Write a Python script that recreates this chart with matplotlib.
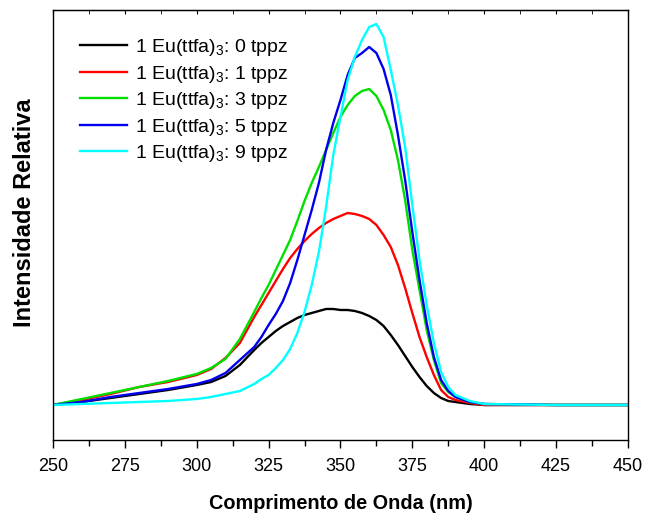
import numpy as np
import matplotlib
matplotlib.use("Agg")
import matplotlib.pyplot as plt

plt.rcParams['font.family'] = ['Liberation Sans', 'DejaVu Sans']
plt.rcParams['mathtext.fontset'] = 'custom'
plt.rcParams['mathtext.rm'] = 'Liberation Sans'
plt.rcParams['mathtext.it'] = 'Liberation Sans'

# wavelength (nm)
wl = [250, 260, 270, 280, 290, 300, 305, 310, 315, 320, 322.5, 325, 327.5,
      330, 332.5, 335, 337.5, 340, 342.5, 345, 347.5, 350, 352.5, 355, 357.5,
      360, 362.5, 365, 367.5, 370, 372.5, 375, 377.5, 380, 382.5, 385, 387.5,
      390, 395, 400, 425, 450]

# relative intensity (arbitrary units)
i0 = [0, 3, 7, 11, 15, 20, 23, 29, 40, 55, 62, 68, 74, 79, 83, 87, 90, 92,
      94, 96, 96, 95, 95, 94, 92, 89, 85, 79, 70, 60, 49, 38, 28, 19, 12, 7,
      4, 3, 1, 0, 0, 0]
i1 = [0, 5, 11, 18, 23, 30, 36, 47, 62, 88, 100, 112, 124, 136, 147, 156,
      164, 171, 177, 182, 186, 189, 192, 191, 189, 186, 180, 170, 158, 140,
      117, 92, 68, 48, 30, 15, 8, 5, 2, 0, 0, 0]
i3 = [0, 6, 12, 18, 24, 31, 37, 46, 66, 93, 107, 120, 135, 150, 165, 184,
      204, 222, 238, 255, 272, 288, 300, 309, 314, 316, 309, 295, 275, 245,
      205, 155, 115, 75, 45, 22, 13, 8, 3, 1, 0, 0]
i5 = [0, 3, 8, 12, 16, 21, 25, 32, 45, 58, 68, 80, 91, 104, 122, 145, 170,
      195, 222, 255, 282, 305, 330, 347, 352, 358, 352, 336, 310, 270, 225,
      173, 125, 82, 48, 25, 14, 8, 3, 1, 0, 0]
i9 = [0, 1, 2, 3, 4, 6, 8, 11, 14, 21, 26, 30, 37, 45, 56, 72, 93, 120, 153,
      198, 250, 288, 325, 348, 365, 378, 381, 368, 335, 300, 258, 200, 145,
      100, 62, 33, 18, 10, 4, 1, 0, 0]

series = [i0, i1, i3, i5, i9]
labels = ["1 Eu(ttfa)$_3$: 0 tppz", "1 Eu(ttfa)$_3$: 1 tppz",
          "1 Eu(ttfa)$_3$: 3 tppz", "1 Eu(ttfa)$_3$: 5 tppz",
          "1 Eu(ttfa)$_3$: 9 tppz"]
colors = ["#000000", "#ff0000", "#00e000", "#0000ee", "#00ffff"]

fig = plt.figure(figsize=(6.48, 5.18), dpi=100)
ax = fig.add_axes([0.0818, 0.1506, 0.969 - 0.0818, 0.9807 - 0.1506])

for s, lab, c in zip(series, labels, colors):
    ax.plot(wl, s, color=c, lw=1.7, label=lab)

ax.set_xlim(250, 450)
ax.set_ylim(-35, 395)
ax.set_xticks(np.arange(250, 451, 25))
ax.set_xticks(np.arange(262.5, 450, 25), minor=True)
ax.set_yticks([])
ax.tick_params(axis='x', which='both', direction='out', width=1, pad=7,
               labelsize=13)
ax.tick_params(axis='x', which='major', length=6)
ax.tick_params(axis='x', which='minor', length=4)

top = ax.secondary_xaxis('top')
top.set_xticks(np.arange(250, 451, 25))
top.set_xticks(np.arange(262.5, 450, 25), minor=True)
top.tick_params(which='both', direction='in', labeltop=False, length=3)

for sp in ax.spines.values():
    sp.set_linewidth(1.0)

ax.set_xlabel("Comprimento de Onda (nm)", fontsize=14.3, fontweight='bold')
ax.xaxis.set_label_coords(0.5, -0.125)
ax.set_ylabel("Intensidade Relativa", fontsize=17, fontweight='bold')
ax.yaxis.set_label_coords(-0.03, 0.528)

ax.legend(loc='upper left', frameon=False, fontsize=14, handlelength=2.4,
          labelspacing=0.28, borderaxespad=1.0, handletextpad=0.4)

fig.savefig("out.png", dpi=100)
